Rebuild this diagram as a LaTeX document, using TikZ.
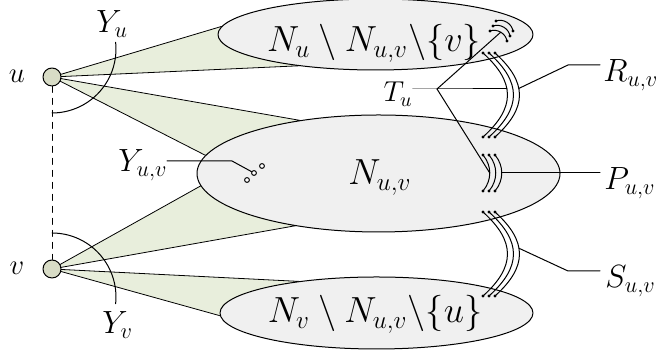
\documentclass[tikz,border=0pt]{standalone}
\usetikzlibrary{shapes.geometric,backgrounds}
\definecolor{wedgegreen}{RGB}{232,238,220}
\definecolor{vertfill}{RGB}{216,220,198}
\definecolor{setgray}{RGB}{240,240,240}
\begin{document}
\begin{tikzpicture}[x=0.5pt, y=0.5pt, line width=0.5pt, line join=round, line cap=round,
		vert/.style={circle, draw, fill=vertfill, minimum size=9pt, inner sep=0pt},
		setnode/.style={ellipse, draw, fill=setgray, inner sep=0pt},
		wedge/.style={fill=wedgegreen},
		odot/.style={circle, draw, fill=white, minimum size=2.4pt, inner sep=0pt},
		lbl/.style={font=\LARGE, scale=0.93, inner sep=0pt},
		big/.style={font=\LARGE, scale=1.05, inner sep=0pt}]
	\useasboundingbox (0,0) rectangle (660,352);
	% the three sets
	\node[setnode, minimum width=157.5pt, minimum height=35.5pt] (top) at (375.5,317.5) {};
	\node[setnode, minimum width=181.5pt, minimum height=58.5pt] (mid) at (378.5,178.5) {};
	\node[setnode, minimum width=156.5pt, minimum height=36pt] (bot) at (376.5,39) {};
	\node[big, anchor=base] (topT) at (374,300) {$N_u \setminus N_{u,v}\backslash\{v\}$};
	\node[big, anchor=base] (midT) at (380,167) {$N_{u,v}$};
	\node[big, anchor=base] (botT) at (375,29) {$N_v \setminus N_{u,v}\backslash\{u\}$};
	% vertices u and v
	\node[vert] (u) at (52,275) {};
	\node[vert] (v) at (52,83) {};
	\node[font=\Large] (ulbl) at (17,276) {$u$};
	\node[font=\Large] (vlbl) at (17,84) {$v$};
	\draw[dashed] (u) -- (v);
	% green cones into the sets
	\begin{scope}[on background layer]
		\foreach \s/\a/\b in {top/177.6/202.6, mid/146.4/174.7}
		\filldraw[wedge] (u.center) -- (\s.\a) -- (\s.\b) -- cycle;
		\foreach \s/\a/\b in {mid/184.6/212.6, bot/158/181.5}
		\filldraw[wedge] (v.center) -- (\s.\a) -- (\s.\b) -- cycle;
	\end{scope}
	% Y_u and Y_v
	\draw (52,239) arc[start angle=270, end angle=366, radius=64];
	\draw (52,119) arc[start angle=90, end angle=-6, radius=64];
	\node[lbl, anchor=base west] (Yu) at (96,319) {$Y_u$};
	\node[lbl, anchor=base west] (Yv) at (102,18) {$Y_v$};
	% Y_{u,v}
	\node[odot] (y1) at (247,172) {};
	\node[odot] (y2) at (254,179) {};
	\node[odot] (y3) at (262,186) {};
	\coordinate (yuvend) at (167,191);
	\node[lbl, anchor=base east] (Yuv) at (168,180) {$Y_{u,v}$};
	\draw (yuvend) -- (232,191) -- (y2);
	% edge bundles
	\foreach \i in {0,1,2} {
		\draw (496-3*\i,331-5*\i) to[bend left=50] coordinate[pos=.5] (q\i) (513-3*\i,321-5*\i);
		\draw (483+6*\i,299) to[out=-42, in=42, looseness=1.34] coordinate[pos=.42] (r\i) (483+6*\i,215);
		\draw (483+6*\i,197) to[out=-50, in=50] coordinate[pos=.5] (p\i) (483+6*\i,161);
		\draw (483+6*\i,140) to[out=-42, in=42, looseness=1.34] coordinate[pos=.43] (s\i) (483+6*\i,56);
	}
	\foreach \i in {0,1,2} {
		\fill (496-3*\i,331-5*\i) circle (1.6);
		\fill (513-3*\i,321-5*\i) circle (1.6);
		\foreach \y in {299,215,197,161,140,56}
		\fill (483+6*\i,\y) circle (1.6);
	}
	% T_u
	\coordinate (tend) at (413,263);
	\coordinate (tj) at (437,263);
	\node[font=\Large, inner sep=0pt, anchor=base east] (Tu) at (413,250) {$T_u$};
	\draw (tend) -- (tj) -- (tj -| r0);
	\draw (tj) -- (q2);
	\draw (tj) -- (p0);
	% R, P, S
	\coordinate (rend) at (600,287);
	\coordinate (pend) at (600,179);
	\coordinate (send) at (600,81);
	\node[lbl, anchor=base west] (Ruv) at (603,270) {$R_{u,v}$};
	\node[lbl, anchor=base west] (Puv) at (604,162) {$P_{u,v}$};
	\node[lbl, anchor=base west] (Suv) at (605,64) {$S_{u,v}$};
	\draw (r2) -- (568,287) -- (rend);
	\draw (p2) -- (p2 -| pend);
	\draw (s2) -- (568,81) -- (send);
\end{tikzpicture}
\end{document}
